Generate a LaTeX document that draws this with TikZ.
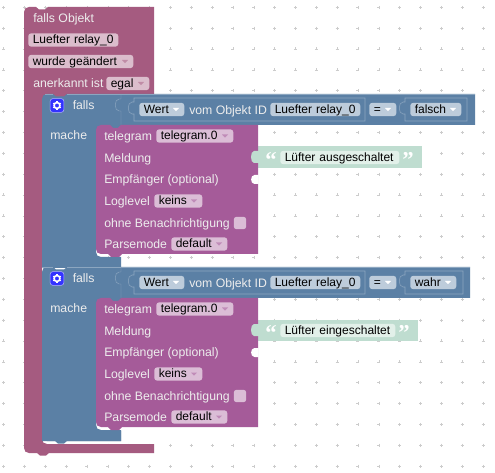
\documentclass[tikz,border=0pt]{standalone}
\usepackage{fontspec}
\setmainfont{Liberation Sans}
\definecolor{outerc}{HTML}{A55B80}
\definecolor{bluec}{HTML}{5B80A5}
\definecolor{purpc}{HTML}{A55B99}
\definecolor{textc}{HTML}{BFDDD0}
\definecolor{chipo}{HTML}{DBBDCC}
\definecolor{chipb}{HTML}{BDCCDB}
\definecolor{chipp}{HTML}{DBBDD6}
\definecolor{chipt}{HTML}{E2F0E9}
\definecolor{hairb}{HTML}{8CA6C0}
\newcommand{\pxsize}{\fontsize{9.2pt}{10pt}\selectfont}
\newcommand{\chipsize}{\fontsize{9pt}{10pt}\selectfont}
\tikzset{
  lbl/.style={anchor=west,inner sep=0pt,text height=7pt,text depth=0pt,font=\pxsize,text=white!93!black},
  chip/.style={anchor=west,rounded corners=2.2pt,inner ysep=0pt,inner xsep=3.4pt,minimum height=10pt,text height=7pt,text depth=1.2pt,font=\chipsize,text=black,align=left},
  x=0.75pt,y=-0.75pt
}
\newcommand{\chipbox}[7]{%
  \node[chip,fill=#6,text width={(#3-#2-9)*0.75pt}] (#1) at (#2,#4) {\mbox{#5}};
  \fill[#7] ({#3-11},{#4-1.5}) -- ++(6,0) -- ++(-3,3.2) -- cycle;}
\newcommand{\puzzlev}[3]{%
  (#1,#2) -- (#1,{#2+5}) -- ({#1-2},{#2+5}) .. controls ({#1-7},{#2+5}) and ({#1-7},{#2+17}) .. ({#1-2},{#2+17}) -- (#1,{#2+17}) -- (#1,#3)}
\newcommand{\ifblock}[6]{%
 \begin{scope}[shift={(0,#2)}]
  \fill[bluec] (42,99) .. controls (42,96) and (44,94) .. (47,94) -- (53,94) -- (56,96.5) -- (64,96.5) -- (67,94) -- (#3,94) -- (#3,125) -- (121,125) -- (121,131) -- (96,131) -- (96,252) .. controls (96,255) and (98,257) .. (101,257) -- (121,257) -- (121,268) -- (42,268) -- cycle;
  \draw[hairb,line width=.35pt] (45,94) -- (53,94) (67,94) -- (#3,94);
  \draw[hairb,line width=.35pt] \puzzlev{121}{94}{125};
  \fill[bluec] (110,125) -- (113,128) -- (118,128) -- (121,125) -- cycle;
  \draw[hairb,line width=.4pt] (365,98) -- (134,98) -- (134,102) -- (132,102) .. controls (127,102) and (127,114) .. (132,114) -- (134,114) -- (134,121) -- (365,121) -- cycle;
  \draw[hairb,line width=.4pt] (#6,98) -- (405,98) -- (405,102) -- (403,102) .. controls (398,102) and (398,114) .. (403,114) -- (405,114) -- (405,121) -- (#6,121) -- cycle;
  \node[draw=white!70!blue,fill=blue!80!white,rounded corners=2.2pt,minimum size=10.4pt,inner sep=0pt,line width=.4pt] (gear#1) at (57,105.5) {};
  \draw[white,line width=1.2pt] (gear#1) circle (2.2pt);
  \foreach \a in {30,90,...,330}{\draw[white,line width=.9pt] (gear#1.center) ++(\a:2.2pt) -- ++(\a:1.1pt);}
  \node[lbl] (falls#1) at (72.5,105) {falls};
  \node[lbl] (mache#1) at (50,135) {mache};
  \chipbox{wert#1}{139}{184}{109.5}{Wert}{chipb}{white}
  \node[lbl] (vom#1) at (189,109.5) {vom Objekt ID};
  \node[chip,fill=chipb,text width={(360-270-9)*0.75pt}] (rel#1) at (270,109.5) {\mbox{Luefter relay\_0}};
  \chipbox{eq#1}{369}{396}{109.5}{=}{chipb}{white}
  \chipbox{val#1}{410}{#5}{109.5}{#4}{chipb}{white}
  \end{scope}}
\newcommand{\tgblock}[5]{%
 \begin{scope}[shift={(0,#2)}]
  \fill[textc] (258,146.5) -- (#5,146.5) -- (#5,168) -- (258,168) -- cycle;
  \node[anchor=center,inner sep=0pt,font=\fontsize{17pt}{17pt}\selectfont\bfseries,text=white] (qa#1) at (271,160) {\fontspec{Liberation Serif}“};
  \node[chip,fill=chipt,text width={(#4-280-9)*0.75pt}] (msg#1) at (280,157.5) {\mbox{#3}};
  \node[anchor=center,inner sep=0pt,font=\fontsize{17pt}{17pt}\selectfont\bfseries,text=white] (qb#1) at ({#4+9},160) {\fontspec{Liberation Serif}”};
  \fill[purpc] (101,125) -- (110,125) -- (113,128) -- (118,128) -- (121,125) -- (258,125) -- (258,254) -- (122,254) -- (119,257) -- (111,257) -- (108,254) -- (101,254) .. controls (98,254) and (96,252) .. (96,249) -- (96,130) .. controls (96,127) and (98,125) .. (101,125) -- cycle;
  \fill[textc] (259,151) -- (254,151) .. controls (250,151) and (250,163) .. (254,163) -- (259,163) -- cycle;
  \fill[white] (258.5,175) -- (254.5,175) .. controls (250,175) and (250,184) .. (254.5,184) -- (258.5,184) -- cycle;
  \node[lbl] (tg#1) at (104,136) {telegram};
  \chipbox{tgv#1}{156}{233}{136}{telegram.0}{chipp}{purpc!70!white}
  \node[lbl] (mel#1) at (104,158) {Meldung};
  \node[lbl] (emp#1) at (104,179) {Empfänger (optional)};
  \node[lbl] (log#1) at (104,201) {Loglevel};
  \chipbox{logv#1}{154}{202}{201}{keins}{chipp}{purpc!70!white}
  \node[lbl] (ohne#1) at (104,223) {ohne Benachrichtigung};
  \node[fill=chipp,rounded corners=2pt,inner sep=0pt,minimum size=9.3pt] (chk#1) at (240,223) {};
  \node[lbl] (par#1) at (104,244) {Parsemode};
  \chipbox{parv#1}{171}{227}{244}{default}{chipp}{purpc!70!white}
 \end{scope}}
\begin{document}
\begin{tikzpicture}
\useasboundingbox (0,0) rectangle (495,473);
\fill[white] (0,0) rectangle (495,473);
\foreach \i in {0,...,23}{\foreach \j in {0,...,22}{
  \draw[black!20,line width=.3pt] ({3.5+20.85*\i-1.5},{7.3+20.85*\j}) -- ++(3,0) ({3.5+20.85*\i},{7.3+20.85*\j-1.5}) -- ++(0,3);
}}
\fill[outerc] (24,12) .. controls (24,9) and (26,7) .. (29,7) -- (36,7) -- (39,9.5) -- (45,9.5) -- (48,7) -- (154,7) -- (154,100) -- (42,100) -- (42,439) .. controls (42,442) and (44,444) .. (47,444) -- (154,444) -- (154,453) -- (49,453) -- (46,455.5) -- (40,455.5) -- (37,453) -- (29,453) .. controls (26,453) and (24,451) .. (24,448) -- cycle;
\node[lbl] (head) at (33,18) {falls Objekt};
\node[chip,fill=chipo,text width={(118-28-9)*0.75pt}] (obj) at (28,40) {\mbox{Luefter relay\_0}};
\chipbox{chg}{28}{133}{61.5}{wurde geändert}{chipo}{outerc!70!white}
\node[lbl] (ack) at (33,83) {anerkannt ist};
\chipbox{egal}{106}{149}{83.5}{egal}{chipo}{outerc!70!white}
\fill[bluec] (42,300) -- (42,436) .. controls (42,439) and (44,441) .. (47,441) -- (55,441) -- (58,443.5) -- (64,443.5) -- (67,441) -- (121,441) -- (121,431) -- (96,431) -- (96,300) -- cycle;
\ifblock{b}{173}{470}{wahr}{456}{463}
\ifblock{a}{0}{475}{falsch}{461}{467}
\fill[bluec] (42,262) rectangle (121,268);
\draw[hairb,line width=.35pt] (42,267) -- (53,267) (67,267) -- (121,267);
\tgblock{a}{0}{Lüfter ausgeschaltet}{399}{422}
\tgblock{b}{173}{Lüfter eingeschaltet}{395}{418}
\end{tikzpicture}
\end{document}
